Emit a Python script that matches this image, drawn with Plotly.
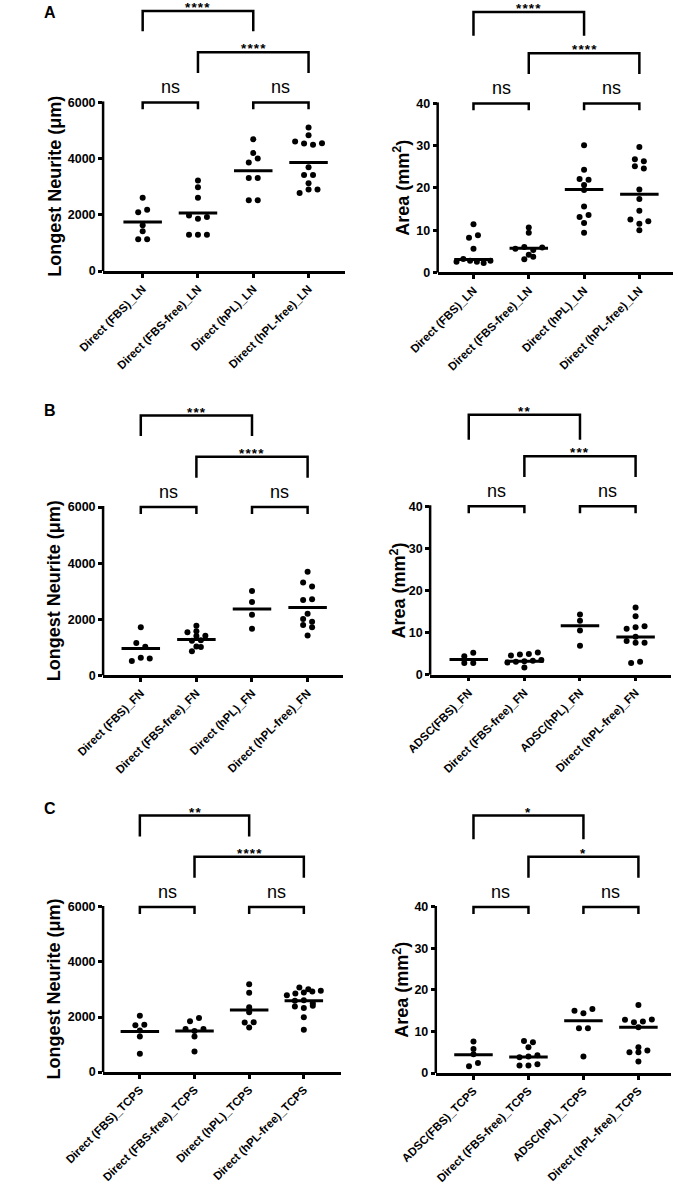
import plotly.graph_objects as go

W, H = 678, 1200

# ---------------- values ----------------
ln_labels = ["Direct (FBS)_LN", "Direct (FBS-free)_LN", "Direct (hPL)_LN", "Direct (hPL-free)_LN"]
ln_neurite = [
    [2605, 2090, 2180, 1627, 1415, 1132, 1132],
    [3220, 2983, 2605, 1980, 1860, 1920, 1297, 1297, 1297],
    [4692, 4197, 3867, 4008, 3313, 3313, 2523, 2523],
    [5105, 4834, 4610, 4540, 4490, 4550, 3690, 3419, 3419, 3124, 2780, 2900, 2900],
]
ln_neurite_line = [1745, 2063, 3572, 3867]
ln_neurite_sig = ["****", "****"]

ln_area = [
    [11.4, 8.2, 8.8, 5.6, 2.5, 3.2, 2.75, 2.5, 2.2, 2.75],
    [10.6, 9.4, 5.6, 6.0, 5.3, 5.9, 4.2, 3.1, 3.7],
    [30.1, 24.3, 22.1, 21.9, 20.7, 19.5, 15.6, 13.1, 13.6, 11.7, 9.4],
    [29.7, 26.8, 26.3, 25.1, 24.6, 19.6, 17.4, 14.6, 12.5, 11.5, 12.1, 10.0],
]
ln_area_line = [3.06, 5.7, 19.6, 18.5]
ln_area_sig = ["****", "****"]

fn_labels = ["Direct (FBS)_FN", "Direct (FBS-free)_FN", "Direct (hPL)_FN", "Direct (hPL-free)_FN"]
fn_neurite = [
    [1712, 1157, 1016, 508, 626, 602],
    [1772, 1535, 1570, 1400, 1410, 1230, 1250, 860, 1010, 1030],
    [3011, 2610, 2161, 1665],
    [3697, 3306, 3166, 2690, 2714, 2197, 2006, 1914, 1793, 1712, 1418],
]
fn_neurite_line = [957, 1275, 2362, 2421]
fn_neurite_sig = ["***", "****"]

fn_area_labels = ["ADSC(FBS)_FN", "Direct (FBS-free)_FN", "ADSC(hPL)_FN", "Direct (hPL-free)_FN"]
fn_area = [
    [4.4, 5.2, 2.8, 2.8],
    [4.6, 4.8, 4.9, 5.3, 2.9, 3.1, 3.2, 3.3, 3.5, 1.7],
    [14.3, 12.8, 10.5, 6.9],
    [16.0, 13.9, 10.9, 11.3, 11.5, 9.0, 8.0, 7.6, 7.6, 2.8, 3.1],
]
fn_area_line = [3.62, 3.23, 11.65, 8.97]
fn_area_sig = ["**", "***"]

tc_labels = ["Direct (FBS)_TCPS", "Direct (FBS-free)_TCPS", "Direct (hPL)_TCPS", "Direct (hPL-free)_TCPS"]
tc_neurite = [
    [2048, 1700, 1720, 1510, 1290, 663],
    [1844, 1964, 1567, 1490, 1560, 1290, 747],
    [3193, 2880, 2350, 2170, 1800, 1810, 1620],
    [3070, 3010, 2795, 2855, 2890, 2930, 2950, 2590, 2610, 2500, 2385, 2324, 2407, 1988, 1540],
]
tc_neurite_line = [1470, 1494, 2253, 2591]
tc_neurite_sig = ["**", "****"]

tc_area_labels = ["ADSC(FBS)_TCPS", "Direct (FBS-free)_TCPS", "ADSC(hPL)_TCPS", "Direct (hPL-free)_TCPS"]
tc_area = [
    [7.6, 5.8, 4.5, 1.6, 2.4],
    [7.7, 7.4, 6.2, 3.8, 4.0, 4.3, 1.8, 1.8, 2.1],
    [15.0, 14.4, 15.4, 10.8, 10.8, 4.0],
    [16.4, 12.8, 12.2, 12.4, 12.9, 11.0, 6.2, 5.0, 5.0, 5.4, 2.8],
]
tc_area_line = [4.39, 3.83, 12.6, 11.0]
tc_area_sig = ["*", "*"]

neurite_ticks = [0, 2000, 4000, 6000]
area_ticks = [0, 10, 20, 30, 40]
neurite_title = "<b>Longest Neurite (\u03bcm)</b>"
area_title = "<b>Area (mm<sup>2</sup>)</b>"

# ---------------- panel geometry (pixels in the 678x1200 page) ----------------
panels = [
    dict(letter="A", labels=ln_labels, vals=ln_neurite, line=ln_neurite_line, sig=ln_neurite_sig,
         ticks=neurite_ticks, title=neurite_title, tx=17,
         x0=68, x1=325, c0=110, c3=286, p0=272.7, pt=103, ptop=0, leg=20.5),
    dict(letter=None, labels=ln_labels, vals=ln_area, line=ln_area_line, sig=ln_area_sig,
         ticks=area_ticks, title=area_title, tx=385,
         x0=423, x1=673, c0=461, c3=637, p0=274, pt=104, ptop=0, leg=24),
    dict(letter="B", labels=fn_labels, vals=fn_neurite, line=fn_neurite_line, sig=fn_neurite_sig,
         ticks=neurite_ticks, title=neurite_title, tx=16,
         x0=68, x1=323, c0=108, c3=285, p0=679.3, pt=510, ptop=400, leg=20.5),
    dict(letter=None, labels=fn_area_labels, vals=fn_area, line=fn_area_line, sig=fn_area_sig,
         ticks=area_ticks, title=area_title, tx=381,
         x0=415, x1=671, c0=456, c3=633, p0=678.7, pt=509.3, ptop=400, leg=25),
    dict(letter="C", labels=tc_labels, vals=tc_neurite, line=tc_neurite_line, sig=tc_neurite_sig,
         ticks=neurite_ticks, title=neurite_title, tx=16,
         x0=68, x1=320, c0=107, c3=281, p0=1078.3, pt=912.3, ptop=800, leg=21),
    dict(letter=None, labels=tc_area_labels, vals=tc_area, line=tc_area_line, sig=tc_area_sig,
         ticks=area_ticks, title=area_title, tx=385,
         x0=421, x1=671, c0=461, c3=636, p0=1079.3, pt=912.3, ptop=800, leg=24),
]

FONT = "Arial, Liberation Sans, sans-serif"
LW = 2.5


def swarm_offsets(vals, px_per_unit, gap=4.5, step=9.5, maxw=36):
    # GraphPad-like scatter: points close in y share a row, spread symmetrically
    order = sorted(range(len(vals)), key=lambda i: vals[i])
    rows, cur = [], []
    for i in order:
        if cur and (vals[i] - vals[cur[0]]) * px_per_unit > gap:
            rows.append(cur)
            cur = []
        cur.append(i)
    if cur:
        rows.append(cur)
    off = [0.0] * len(vals)
    for r in rows:
        r = sorted(r)
        n = len(r)
        s = step if n < 2 else min(step, maxw / (n - 1))
        for k, i in enumerate(r):
            off[i] = (k - (n - 1) / 2) * s
    return off


fig = go.Figure()
shapes, annots = [], []

for n, p in enumerate(panels, start=1):
    xa = "x" if n == 1 else f"x{n}"
    ya = "y" if n == 1 else f"y{n}"
    sp = (p["c3"] - p["c0"]) / 3
    r0 = -(p["c0"] - p["x0"]) / sp
    r1 = 3 + (p["x1"] - p["c3"]) / sp
    T = p["ticks"][-1]
    ppu = (p["p0"] - p["pt"]) / T
    ytop = (p["p0"] - p["ptop"]) / ppu

    xs, ys = [], []
    for i, v in enumerate(p["vals"]):
        off = swarm_offsets(v, ppu)
        xs += [i + o / sp for o in off]
        ys += v
    fig.add_trace(go.Scatter(x=xs, y=ys, mode="markers", xaxis=xa, yaxis=ya,
                             marker=dict(size=6, color="black"), cliponaxis=False,
                             hoverinfo="skip", showlegend=False))
    fig.add_trace(go.Scatter(x=list(range(len(p["line"]))), y=p["line"], mode="markers",
                             xaxis=xa, yaxis=ya,
                             marker=dict(symbol="line-ew", size=27.5, color="black",
                                         line=dict(width=3, color="black")),
                             hoverinfo="skip", showlegend=False))

    fig.layout["xaxis" if n == 1 else f"xaxis{n}"] = dict(
        domain=[p["x0"] / W, p["x1"] / W], range=[r0, r1], anchor=ya,
        showline=True, linewidth=LW, linecolor="black", showgrid=False, zeroline=False,
        ticks="outside", ticklen=4, tickwidth=LW, tickcolor="black",
        tickvals=[0, 1, 2, 3], ticktext=[f"<b>{t}</b>" for t in p["labels"]],
        tickangle=-45, tickfont=dict(family=FONT, size=11.5, color="black"))
    fig.layout["yaxis" if n == 1 else f"yaxis{n}"] = dict(
        domain=[1 - p["p0"] / H, 1 - p["ptop"] / H], range=[0, ytop], anchor=xa,
        showline=False, showgrid=False, zeroline=False,
        ticks="outside", ticklen=4, tickwidth=LW, tickcolor="black",
        tickvals=p["ticks"], ticktext=[f"<b>{t}</b>" for t in p["ticks"]],
        tickfont=dict(family=FONT, size=12.5, color="black"))

    # y axis line only up to the top tick
    shapes.append(dict(type="line", xref=f"{xa} domain", yref=ya, x0=0, x1=0,
                       y0=-2.5 / ppu, y1=T + 1 / ppu, line=dict(color="black", width=LW)))

    # significance brackets: ns pairs, then the two long comparisons
    levels = [
        (0, 1, T, 7, "ns"), (2, 3, T, 7, "ns"),
        (1, 3, T + 50.5 / ppu, 21, p["sig"][1]),
        (0, 2, T + 92 / ppu, p["leg"], p["sig"][0]),
    ]
    for a, b, lv, leg, txt in levels:
        lo = lv - leg / ppu
        shapes.append(dict(type="path", xref=xa, yref=ya,
                           path=f"M{a},{lo} L{a},{lv} L{b},{lv} L{b},{lo}",
                           line=dict(color="black", width=LW)))
        if txt == "ns":
            annots.append(dict(x=(a + b) / 2, y=lv, xref=xa, yref=ya, text="ns", showarrow=False,
                               yanchor="bottom", yshift=3,
                               font=dict(family=FONT, size=18, color="black")))
        else:
            stars = "\u200a".join(txt)
            annots.append(dict(x=(a + b) / 2, y=lv, xref=xa, yref=ya, text=f"<b>{stars}</b>",
                               showarrow=False, yanchor="bottom", yshift=-6,
                               font=dict(family=FONT, size=13.5, color="black")))

    annots.append(dict(x=p["tx"] / W, y=1 - (p["p0"] + p["pt"]) / 2 / H, xref="paper", yref="paper",
                       text=p["title"], textangle=-90, showarrow=False,
                       xanchor="center", yanchor="middle",
                       font=dict(family=FONT, size=18, color="black")))
    if p["letter"]:
        annots.append(dict(x=12 / W, y=1 - (p["ptop"] + 13) / H, xref="paper", yref="paper",
                           text=f"<b>{p['letter']}</b>", showarrow=False,
                           xanchor="center", yanchor="middle",
                           font=dict(family=FONT, size=16, color="black")))

fig.update_layout(width=W, height=H, margin=dict(l=0, r=0, t=0, b=0),
                  paper_bgcolor="white", plot_bgcolor="white",
                  shapes=shapes, annotations=annots, showlegend=False)

# page body margin would shift the figure by 8px; pin it to the corner
fig.write_html("out.html", config={"displayModeBar": False},
               post_script="document.body.style.margin='0';")
